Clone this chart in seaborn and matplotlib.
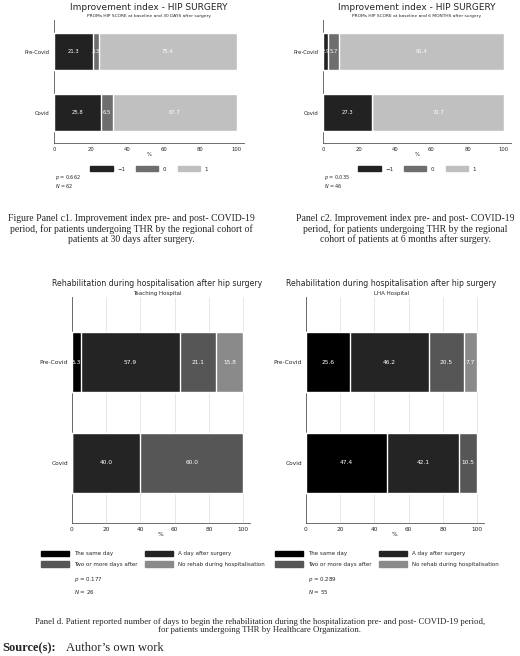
import matplotlib
matplotlib.use("Agg")
import matplotlib.pyplot as plt
import seaborn as sns
import pandas as pd
import numpy as np
from matplotlib.patches import Patch

# ==================== DATA ====================
groups = ["Pre-Covid", "Covid"]
c_cats = ["\u22121", "0", "1"]
c1_vals = [[21.3, 3.3, 75.4], [25.8, 6.5, 67.7]]
c2_vals = [[2.9, 5.7, 91.4], [27.3, 0.0, 72.7]]
d_cats = ["The same day", "A day after surgery", "Two or more days after", "No rehab during hospitalisation"]
d1_vals = [[5.3, 57.9, 21.1, 15.8], [0.0, 40.0, 60.0, 0.0]]
d2_vals = [[25.6, 46.2, 20.5, 7.7], [47.4, 42.1, 10.5, 0.0]]
c_colors = ["#222222", "#6e6e6e", "#c0c0c0"]
d_colors = ["#000000", "#242424", "#565656", "#8a8a8a"]

sns.set_style("white")
plt.rcParams['font.family'] = ['DejaVu Sans']
fig = plt.figure(figsize=(5.2, 6.56), dpi=100)
W, H = 520, 656

def box(x0, y0, x1, y1):
    return [x0 / W, 1 - y1 / H, (x1 - x0) / W, (y1 - y0) / H]

def stacked(ax, vals, cats, colors, width, grid, fs):
    df = pd.DataFrame(vals, columns=cats)
    df["group"] = groups
    cum = df[cats].cumsum(axis=1)
    # draw cumulative totals back to front so the segments stack
    for i in range(len(cats) - 1, -1, -1):
        sns.barplot(x=cum[cats[i]], y=df["group"], color=colors[i], orient="h",
                    width=width, ax=ax, saturation=1, zorder=3)
    for r in range(len(groups)):
        left = 0
        for c in cats:
            v = df.loc[r, c]
            if v > 0:
                ax.text(left + v / 2, r, f"{v:.1f}", ha="center", va="center",
                        color="white", fontsize=fs, zorder=5)
            left += v
    ax.set_xlim(0, 104)
    ax.set_xticks([0, 20, 40, 60, 80, 100])
    ax.set_xlabel("%", fontsize=fs, labelpad=0)
    ax.set_ylabel("")
    ax.tick_params(labelsize=fs, length=2, pad=1)
    for s in ["top", "right"]:
        ax.spines[s].set_visible(False)
    for s in ["left", "bottom"]:
        ax.spines[s].set_color("#555555")
        ax.spines[s].set_linewidth(0.6)
    if grid:
        ax.grid(axis="x", color="#e3e3e3", lw=0.6, zorder=0)

# Panel c1 / c2
for vals, (x0, x1), sub, p, n in [(c1_vals, (54, 244), "PROMs HIP SCORE at baseline and 30 DAYS after surgery", "0.662", "62"),
                                   (c2_vals, (323, 511), "PROMs HIP SCORE at baseline and 6 MONTHS after surgery", "0.035", "46")]:
    ax = fig.add_axes(box(x0, 20, x1, 143))
    stacked(ax, vals, c_cats, c_colors, 0.6, False, 3.8)
    ax.set_ylim(1.5, -0.52)
    xc = (x0 + x1) / 2 / W
    fig.text(xc, 1 - 7 / H, "Improvement index - HIP SURGERY", ha="center", va="center", fontsize=6.5)
    fig.text(xc, 1 - 16 / H, sub, ha="center", va="center", fontsize=3.2)
    ax.legend(handles=[Patch(color=c) for c in c_colors], labels=c_cats, loc="upper center",
              bbox_to_anchor=(0.5, -0.15), ncol=3, fontsize=4, frameon=False,
              handlelength=4, handleheight=0.8, columnspacing=2)
    fig.text((x0 + 1) / W, 1 - 177 / H, f"$p$ = {p}", fontsize=3.5, va="center")
    fig.text((x0 + 1) / W, 1 - 186 / H, f"$N$ = {n}", fontsize=3.5, va="center")

serif = ["Liberation Serif", "DejaVu Serif"]
fig.text(131 / W, 1 - 229 / H, "Figure Panel c1. Improvement index pre- and post- COVID-19\nperiod, for patients undergoing THR by the regional cohort of\npatients at 30 days after surgery.",
         ha="center", va="center", fontsize=7.0, family=serif, linespacing=1.1)
fig.text(405 / W, 1 - 229 / H, "Panel c2. Improvement index pre- and post- COVID-19\nperiod, for patients undergoing THR by the regional\ncohort of patients at 6 months after surgery.",
         ha="center", va="center", fontsize=7.0, family=serif, linespacing=1.1)

# Panel d
order = [0, 2, 1, 3]  # row-major legend order in a 2-column legend
for vals, (x0, x1), sub, p, n in [(d1_vals, (72, 250), "Teaching Hospital", "0.177", "26"),
                                   (d2_vals, (306, 484), "LHA Hospital", "0.289", "55")]:
    ax = fig.add_axes(box(x0, 297, x1, 523))
    stacked(ax, vals, d_cats, d_colors, 0.6, True, 4.2)
    ax.set_ylim(1.6, -0.65)
    xc = (x0 + 171 / 2) / W
    fig.text(xc, 1 - 283 / H, "Rehabilitation during hospitalisation after hip surgery", ha="center", va="center", fontsize=5.6)
    fig.text(xc, 1 - 293 / H, sub, ha="center", va="center", fontsize=4)
    ax.legend(handles=[Patch(color=d_colors[i]) for i in order], labels=[d_cats[i] for i in order],
              loc="upper left", bbox_to_anchor=(-0.2, -0.1), ncol=2, fontsize=4, frameon=False,
              handlelength=5, handleheight=1.2, columnspacing=1.5, labelspacing=0.9)
    fig.text((x0 + 2) / W, 1 - 580 / H, f"$p$ = {p}", fontsize=4, va="center")
    fig.text((x0 + 2) / W, 1 - 592 / H, f"$N$ = {n}", fontsize=4, va="center")

fig.text(0.5, 1 - 626 / H, "Panel d. Patient reported number of days to begin the rehabilitation during the hospitalization pre- and post- COVID-19 period,\nfor patients undergoing THR by Healthcare Organization.",
         ha="center", va="center", fontsize=6.3, family=serif, linespacing=1.1)
fig.text(2 / W, 1 - 648 / H, "Source(s):", ha="left", va="center", fontsize=9, family=serif, weight="bold")
fig.text(66 / W, 1 - 648 / H, "Author\u2019s own work", ha="left", va="center", fontsize=9, family=serif)

fig.savefig("out.png", dpi=100)
